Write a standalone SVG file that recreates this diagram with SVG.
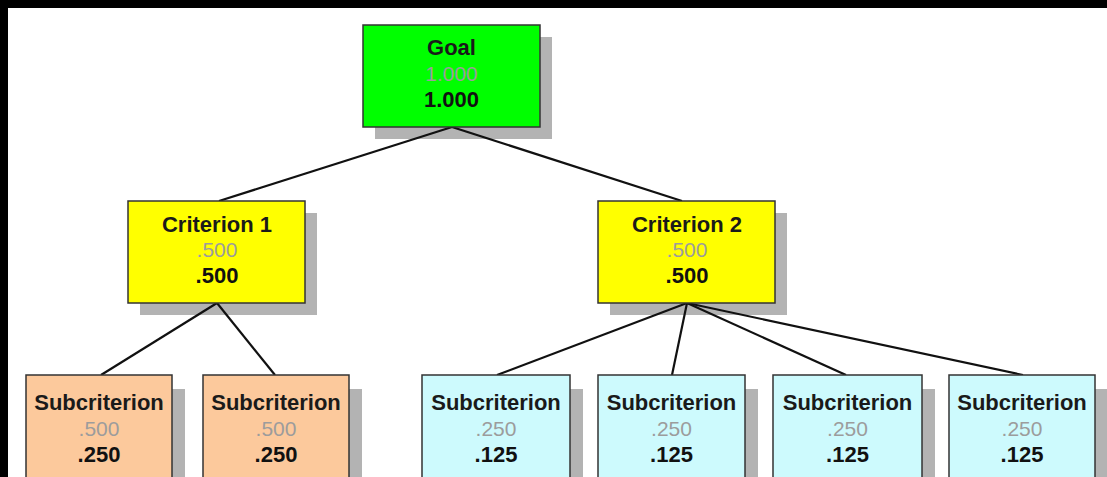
<svg xmlns="http://www.w3.org/2000/svg" width="1107" height="477" viewBox="0 0 1107 477">
<style>
.t{font-family:"Liberation Sans",Arial,sans-serif;font-weight:bold;font-size:22px;text-anchor:middle;fill:#1a1a1a}
.g{font-family:"Liberation Sans",Arial,sans-serif;font-size:21px;text-anchor:middle;fill:#9c9c9c}
.v{font-family:"Liberation Sans",Arial,sans-serif;font-weight:bold;font-size:22px;text-anchor:middle;fill:#111}
.shadows rect{fill:#b3b3b3}
.box{stroke:#333;stroke-width:1.5}
.goal{fill:#00ff00}
.crit{fill:#ffff00}
.peach{fill:#fcc99c}
.cyan{fill:#cdfafd}
.conn line{stroke:#111;stroke-width:2.2}
</style>
<rect x="0" y="0" width="1107" height="477" fill="#000"/>
<rect x="8" y="8" width="1099" height="469" fill="#fff"/>
<g class="shadows">
<rect x="375" y="37" width="177" height="102"/>
<rect x="140" y="213" width="177" height="102"/>
<rect x="610" y="213" width="177" height="102"/>
<rect x="39" y="389" width="146" height="100"/>
<rect x="216" y="389" width="146" height="100"/>
<rect x="435" y="389" width="148" height="100"/>
<rect x="611" y="389" width="147" height="100"/>
<rect x="786" y="389" width="149" height="100"/>
<rect x="962" y="389" width="146" height="100"/>
</g>
<g class="conn">
<line x1="452" y1="127" x2="219" y2="201"/>
<line x1="452" y1="127" x2="682" y2="201"/>
<line x1="217" y1="303" x2="101" y2="375"/>
<line x1="217" y1="303" x2="275" y2="375"/>
<line x1="687" y1="303" x2="497" y2="375"/>
<line x1="687" y1="303" x2="672" y2="375"/>
<line x1="687" y1="303" x2="846" y2="375"/>
<line x1="687" y1="303" x2="1023" y2="375"/>
</g>
<g id="goal">
<rect class="box goal" x="363" y="25" width="177" height="102"/>
<text class="t" x="451.5" y="55">Goal</text>
<text class="g" x="451.5" y="81">1.000</text>
<text class="v" x="451.5" y="107">1.000</text>
</g>
<g id="criterion1">
<rect class="box crit" x="128" y="201" width="177" height="102"/>
<text class="t" x="217" y="232">Criterion 1</text>
<text class="g" x="217" y="257">.500</text>
<text class="v" x="217" y="283">.500</text>
</g>
<g id="criterion2">
<rect class="box crit" x="598" y="201" width="177" height="102"/>
<text class="t" x="687" y="232">Criterion 2</text>
<text class="g" x="687" y="257">.500</text>
<text class="v" x="687" y="283">.500</text>
</g>
<g id="sub1">
<rect class="box peach" x="26" y="375" width="146" height="110"/>
<text class="t" x="99" y="410">Subcriterion</text>
<text class="g" x="99" y="436">.500</text>
<text class="v" x="99" y="462">.250</text>
</g>
<g id="sub2">
<rect class="box peach" x="203" y="375" width="146" height="110"/>
<text class="t" x="276" y="410">Subcriterion</text>
<text class="g" x="276" y="436">.500</text>
<text class="v" x="276" y="462">.250</text>
</g>
<g id="sub3">
<rect class="box cyan" x="422" y="375" width="148" height="110"/>
<text class="t" x="496" y="410">Subcriterion</text>
<text class="g" x="496" y="436">.250</text>
<text class="v" x="496" y="462">.125</text>
</g>
<g id="sub4">
<rect class="box cyan" x="598" y="375" width="147" height="110"/>
<text class="t" x="671.5" y="410">Subcriterion</text>
<text class="g" x="671.5" y="436">.250</text>
<text class="v" x="671.5" y="462">.125</text>
</g>
<g id="sub5">
<rect class="box cyan" x="773" y="375" width="149" height="110"/>
<text class="t" x="847.5" y="410">Subcriterion</text>
<text class="g" x="847.5" y="436">.250</text>
<text class="v" x="847.5" y="462">.125</text>
</g>
<g id="sub6">
<rect class="box cyan" x="949" y="375" width="146" height="110"/>
<text class="t" x="1022" y="410">Subcriterion</text>
<text class="g" x="1022" y="436">.250</text>
<text class="v" x="1022" y="462">.125</text>
</g>
</svg>
